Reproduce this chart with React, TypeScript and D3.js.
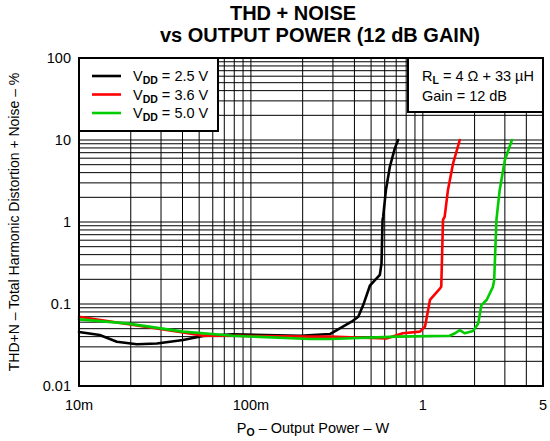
import React from 'react';
import * as d3 from 'd3';

// Data (output power in W, THD+N in %)
const vdd25Power = [0.01, 0.0132, 0.0166, 0.0217, 0.0284, 0.0403, 0.0526, 0.0786, 0.193, 0.288, 0.329, 0.385, 0.421, 0.45, 0.492, 0.562, 0.575, 0.583, 0.588, 0.61, 0.643, 0.687, 0.718];
const vdd25Thd = [0.0456, 0.0419, 0.0347, 0.0323, 0.033, 0.0364, 0.0407, 0.0427, 0.041, 0.043, 0.0506, 0.0608, 0.07, 0.097, 0.167, 0.226, 0.313, 1.06, 1.16, 2.46, 4.72, 7.9, 10];

const vdd36Power = [0.01, 0.0403, 0.0526, 0.0786, 0.22, 0.288, 0.615, 0.765, 0.962, 1.03, 1.1, 1.26, 1.28, 1.31, 1.34, 1.4, 1.5, 1.64];
const vdd36Thd = [0.07, 0.045, 0.041, 0.041, 0.04, 0.04, 0.038, 0.044, 0.046, 0.053, 0.112, 0.155, 0.163, 1.06, 1.16, 2.46, 5.2, 10];

const vdd50Power = [0.01, 0.0189, 0.0403, 0.0786, 0.22, 0.288, 0.703, 1.43, 1.54, 1.64, 1.75, 1.96, 2.1, 2.19, 2.35, 2.56, 2.6, 2.68, 2.8, 3.0, 3.3];
const vdd50Thd = [0.065, 0.058, 0.046, 0.041, 0.0375, 0.0375, 0.04, 0.041, 0.044, 0.048, 0.044, 0.047, 0.058, 0.097, 0.112, 0.163, 0.196, 1.06, 2.46, 5.7, 10];

const seriesNames = ['2.5 V', '3.6 V', '5.0 V'];
const seriesColors = ['#000000', '#ff0000', '#00cc00'];

const xTicks = [0.01, 0.1, 1, 5];
const xTickLabels = ['10m', '100m', '1', '5'];
const yTicks = [0.01, 0.1, 1, 10, 100];
const yTickLabels = ['0.01', '0.1', '1', '10', '100'];

const font = 'Liberation Sans, Arial, Helvetica, sans-serif';

const W = 550;
const H = 441;
const left = 79;
const right = 543;
const top = 58;
const bottom = 386;

const App: React.FC = () => {
  const x = d3.scaleLog().domain([0.01, 5]).range([left, right]);
  const y = d3.scaleLog().domain([0.01, 100]).range([bottom, top]);

  // minor grid: 1..9 per decade
  const xGrid: number[] = [];
  for (let e = -2; e <= 0; e++) {
    for (let k = 1; k <= 9; k++) {
      const v = k * Math.pow(10, e);
      if (v > 0.01 && v < 5) xGrid.push(v);
    }
  }
  const yGrid: number[] = [];
  for (let e = -2; e <= 1; e++) {
    for (let k = 1; k <= 9; k++) {
      const v = k * Math.pow(10, e);
      if (v > 0.01 && v < 100) yGrid.push(v);
    }
  }

  const series = [
    { p: vdd25Power, t: vdd25Thd },
    { p: vdd36Power, t: vdd36Thd },
    { p: vdd50Power, t: vdd50Thd },
  ];

  const line = d3
    .line<[number, number]>()
    .x((d) => x(d[0]))
    .y((d) => y(d[1]));

  return (
    <svg
      width={W}
      height={H}
      style={{ position: 'absolute', left: 0, top: 0, background: '#fff' }}
      fontFamily={font}
    >
      <rect width={W} height={H} fill="#fff" />

      {/* Title */}
      <text x={293} y={20} textAnchor="middle" fontSize={20} fontWeight="bold">
        THD + NOISE
      </text>
      <text x={320} y={42} textAnchor="middle" fontSize={20} fontWeight="bold">
        vs OUTPUT POWER (12 dB GAIN)
      </text>

      {/* Grid */}
      <g stroke="#000" strokeWidth={1}>
        {xGrid.map((v) => (
          <line key={`gx${v}`} x1={x(v)} x2={x(v)} y1={top} y2={bottom} />
        ))}
        {yGrid.map((v) => (
          <line key={`gy${v}`} x1={left} x2={right} y1={y(v)} y2={y(v)} />
        ))}
      </g>

      {/* Curves */}
      {series.map((s, i) => {
        const pts = s.p.map((p, j) => [p, s.t[j]] as [number, number]);
        return (
          <path
            key={i}
            d={line(pts) || ''}
            fill="none"
            stroke={seriesColors[i]}
            strokeWidth={2.6}
            strokeLinejoin="round"
            strokeLinecap="round"
          />
        );
      })}

      {/* Frame */}
      <rect x={left} y={top} width={right - left} height={bottom - top} fill="none" stroke="#000" strokeWidth={2} />

      {/* Legend */}
      <rect x={79} y={58} width={139} height={73} fill="#fff" stroke="#000" strokeWidth={2} />
      {seriesNames.map((n, i) => (
        <g key={n}>
          <line x1={92} x2={121} y1={76 + i * 18.5} y2={76 + i * 18.5} stroke={seriesColors[i]} strokeWidth={2.6} />
          <text x={133} y={81 + i * 18.5} fontSize={14.5}>
            V
            <tspan fontSize={10.5} fontWeight="bold" dy={3}>
              DD
            </tspan>
            <tspan dy={-3}> = {n}</tspan>
          </text>
        </g>
      ))}

      {/* Conditions box */}
      <rect x={408} y={58} width={135} height={54} fill="#fff" stroke="#000" strokeWidth={2} />
      <text x={422} y={81} fontSize={14.5}>
        R
        <tspan fontSize={10.5} fontWeight="bold" dy={3}>
          L
        </tspan>
        <tspan dy={-3}> = 4 Ω + 33 µH</tspan>
      </text>
      <text x={422} y={101} fontSize={14.5}>
        Gain = 12 dB
      </text>

      {/* Axis tick labels */}
      {xTicks.map((v, i) => (
        <text key={`xt${v}`} x={x(v)} y={410} textAnchor="middle" fontSize={14.5}>
          {xTickLabels[i]}
        </text>
      ))}
      {yTicks.map((v, i) => (
        <text key={`yt${v}`} x={71} y={y(v) + 5} textAnchor="end" fontSize={14.5}>
          {yTickLabels[i]}
        </text>
      ))}

      {/* Axis titles */}
      <text x={313} y={433} textAnchor="middle" fontSize={14.5}>
        P
        <tspan fontSize={10.5} fontWeight="bold" dy={3}>
          O
        </tspan>
        <tspan dy={-3}> – Output Power – W</tspan>
      </text>
      <text
        transform={`translate(19, ${(top + bottom) / 2}) rotate(-90)`}
        textAnchor="middle"
        fontSize={14}
      >
        THD+N – Total Harmonic Distortion + Noise – %
      </text>
    </svg>
  );
};

export default App;
